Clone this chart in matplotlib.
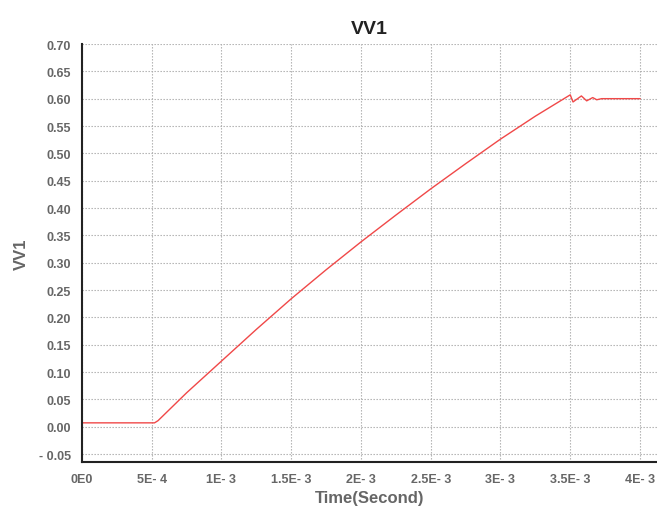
import matplotlib
matplotlib.use("Agg")
import matplotlib.pyplot as plt

# Data
time_s = [0.0, 5.2e-4, 5.45e-4, 7.5e-4, 1.0e-3, 1.25e-3, 1.5e-3, 1.75e-3, 2.0e-3, 2.25e-3,
          2.5e-3, 2.75e-3, 3.0e-3, 3.25e-3, 3.5e-3,
          3.52e-3, 3.58e-3, 3.618e-3, 3.661e-3, 3.69e-3, 3.725e-3, 4.0e-3]
vv1 = [0.007, 0.007, 0.011, 0.062, 0.120, 0.178, 0.234, 0.287, 0.338, 0.387,
       0.435, 0.481, 0.526, 0.568, 0.607,
       0.594, 0.605, 0.596, 0.602, 0.598, 0.600, 0.600]

xticks = [0, 5e-4, 1e-3, 1.5e-3, 2e-3, 2.5e-3, 3e-3, 3.5e-3, 4e-3]
xtick_labels = ["0E0", "5E- 4", "1E- 3", "1.5E- 3", "2E- 3", "2.5E- 3", "3E- 3", "3.5E- 3", "4E- 3"]
yticks = [-0.05, 0.0, 0.05, 0.10, 0.15, 0.20, 0.25, 0.30, 0.35, 0.40, 0.45, 0.50, 0.55, 0.60, 0.65, 0.70]
ytick_labels = ["- 0.05"] + ["%.2f" % v for v in yticks[1:]]

plt.rcParams['font.family'] = ['Liberation Sans', 'DejaVu Sans']
fig = plt.figure(figsize=(6.57, 5.10), dpi=100)
ax = fig.add_axes([82/657, 1 - 462.5/510, 1 - 82/657, (462.5 - 45)/510])

ax.plot(time_s, vv1, color="#f04848", linewidth=1.0)

ax.set_xlim(0, 4.122e-3)
ax.set_ylim(-0.0637, 0.70)
ax.set_xticks(xticks)
ax.set_xticklabels(xtick_labels)
ax.set_yticks(yticks)
ax.set_yticklabels(ytick_labels)
ax.tick_params(axis='both', length=0, labelsize=9, labelcolor="#666666", pad=8)
for lab in ax.get_xticklabels() + ax.get_yticklabels():
    lab.set_fontweight('bold')

ax.grid(True, color="#aaaaaa", linestyle=(0, (1.2, 1.5)), linewidth=0.8)
for s in ['top', 'right']:
    ax.spines[s].set_visible(False)
ax.spines['left'].set_linewidth(1.5)
ax.spines['bottom'].set_linewidth(1.5)
ax.spines['left'].set_color("#222222")
ax.spines['bottom'].set_color("#222222")

ax.set_title("VV1", fontsize=14, fontweight='bold', color="#222222", pad=8)
ax.set_xlabel("Time(Second)", fontsize=12, fontweight='bold', color="#666666", labelpad=4)
ax.set_ylabel("VV1", fontsize=12, fontweight='bold', color="#666666", labelpad=7)

fig.savefig("out.png", dpi=100)
